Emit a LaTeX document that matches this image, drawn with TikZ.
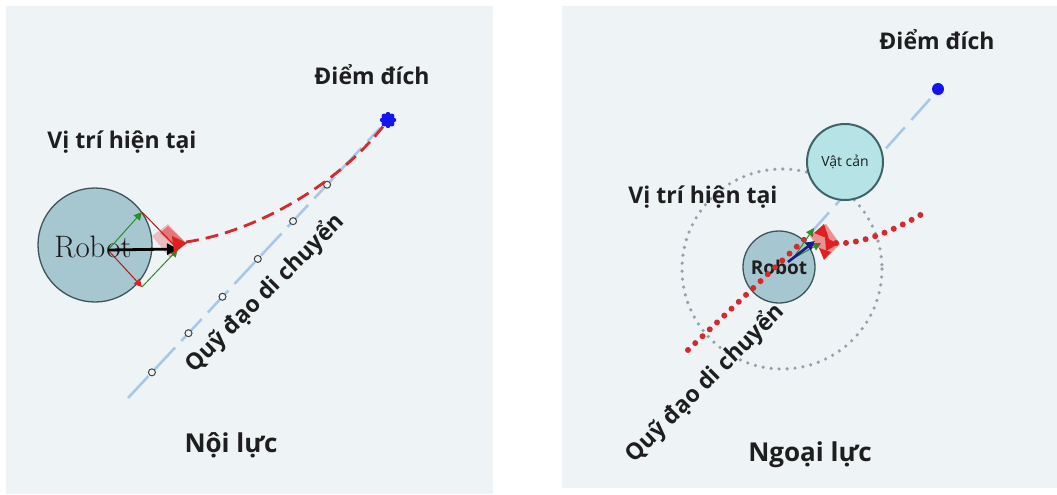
\documentclass[tikz,border=0pt]{standalone}
\usepackage{fontspec}
\newfontfamily\labelfont{Open Sans}
\usetikzlibrary{arrows.meta,calc}
\definecolor{panelbg}{HTML}{EEF3F6}
\definecolor{textdark}{HTML}{1E1E1E}
\definecolor{robotfill}{HTML}{A6C6D0}
\definecolor{robotedge}{HTML}{3D5559}
\definecolor{obstfill}{HTML}{B6E4E6}
\definecolor{obstedge}{HTML}{3E6468}
\definecolor{pathblue}{HTML}{A9C8E6}
\definecolor{goalblue}{HTML}{1414F0}
\definecolor{pathred}{HTML}{D42A2E}
\definecolor{zonegray}{HTML}{96A2AA}
\definecolor{forcegreen}{HTML}{2E8B2E}
\definecolor{forcered}{HTML}{E02020}
\definecolor{forcenavy}{HTML}{1A1A80}
\tikzset{
  lbl/.style={font=\labelfont\bfseries\fontsize{23}{27}\selectfont, text=textdark, inner sep=0pt},
  title/.style={font=\labelfont\bfseries\fontsize{26}{30}\selectfont, text=textdark, inner sep=0pt},
  robotbody/.style={circle, draw=robotedge, line width=1.3pt, fill=robotfill, inner sep=0pt},
  obstbody/.style={circle, draw=obstedge, line width=2pt, fill=obstfill, inner sep=0pt},
  plannedpath/.style={pathblue, line width=2.6pt, dash pattern=on 30pt off 9pt},
  waypoint/.style={circle, draw=black!75, line width=1pt, fill=panelbg, minimum size=7pt, inner sep=0pt},
  actualdash/.style={pathred, line width=2.8pt, dash pattern=on 13pt off 7pt},
  actualdots/.style={pathred, line width=6pt, line cap=round, dash pattern=on 0pt off 10pt},
  zone/.style={zonegray, line width=3.6pt, line cap=round, dash pattern=on 0pt off 8pt},
  greenvec/.style={forcegreen, line width=1pt, -{Triangle[length=8pt,width=8pt]}},
  redvec/.style={forcered!80!black, line width=1pt, -{Triangle[length=8pt,width=8pt,color=forcered]}},
}
\begin{document}
\begin{tikzpicture}[x=1pt,y=-1pt]
\useasboundingbox (0,0) rectangle (1057,495);
\fill[white] (0,0) rectangle (1057,495);
% two panels
\fill[panelbg] (6,6) rectangle (493,494);
\fill[panelbg] (562,6) rectangle (1057,488);

% ================= left panel: internal force =================
\coordinate (startL) at (128,398);
\coordinate (endL) at (380,128);
\draw[plannedpath] (startL) -- (endL);
\foreach \i/\p in {1/0.095,2/0.24,3/0.375,4/0.515,5/0.655,6/0.79}
  \node[waypoint] (wp\i) at ($(startL)!\p!(endL)$) {};

\node[robotbody, minimum size=114pt] (robotL) at (95,245) {};
\node[font=\fontsize{31}{34}\selectfont, text=black!90, inner sep=0pt] (robotnameL) at (93,247) {Robot};

% force parallelogram
\coordinate (oL) at (108,250);
\coordinate (tL) at (142,212);
\coordinate (bL) at (142,287);
\coordinate (pL) at (178,249);
\draw[forcered!80!black, line width=1pt] (tL) -- (pL);
\draw[greenvec] (bL) -- (pL);
\draw[greenvec] (oL) -- (tL);
\draw[redvec] (oL) -- (bL);
% blurred resulting heading
\fill[forcered, opacity=0.25] (152,236) -- (168,224) -- (186,243) -- (170,258) -- cycle;
\fill[forcered, opacity=0.45] (160,233) -- (168,226) -- (184,241) -- (176,248) -- cycle;
\draw[black, line width=2.8pt, -{Triangle[length=11pt,width=11pt]}] (oL) -- (pL);
\fill[forcered] (172,236) -- (187,243) -- (174,253) -- cycle;

% goal and travelled path
\node[circle, fill=goalblue, minimum size=11pt, inner sep=0pt] (goalL) at (388,120) {};
\foreach \a in {0,45,...,315}
  \fill[goalblue] (goalL.center) ++(\a:5.5) circle (2.6);
\draw[actualdash] (186,242) .. controls (255,232) and (338,185) .. (goalL);

\node[lbl] (goalnameL) at (372,75) {Điểm đích};
\node[lbl] (posnameL) at (122,142) {Vị trí hiện tại};
\node[lbl, rotate=45] (pathnameL) at (265,293) {Quỹ đạo di chuyển};
\node[title] (titleL) at (231,445) {Nội lực};

% ================= right panel: external force =================
\node[circle, fill=goalblue, minimum size=12pt, inner sep=0pt] (goalR) at (938,89) {};
\coordinate (headR) at (808,236);
\draw[plannedpath, dash pattern=on 28pt off 10pt] ([shift={(-8,10)}]goalR.center) -- (headR);

\draw[zone] (782,269) circle (100);

\node[obstbody, minimum size=76pt, font=\labelfont\fontsize{14}{16}\selectfont, text=textdark] (obst) at (845,162) {Vật cản};
\node[robotbody, minimum size=72pt, font=\labelfont\bfseries\fontsize{19}{22}\selectfont, text=textdark] (robotR) at (779,267) {Robot};

% travelled path (dotted) and deflection ahead
\coordinate (tailR) at (688,350);
\draw[actualdots] (tailR) -- (headR);
\draw[actualdots] (836,243) .. controls (860,245) and (895,230) .. (922,214);

% force cluster at the robot front
\draw[greenvec, -{Triangle[length=8pt,width=8pt]}] (794,257) -- (814,228);
\draw[greenvec, -{Triangle[length=8pt,width=8pt]}] (794,258) -- (821,243);
\draw[forcenavy, line width=2.6pt, -{Triangle[length=9pt,width=9pt]}] (788,262) -- (815,241);
\fill[forcered, opacity=0.45] (810,236) -- (826,224) -- (840,244) -- (826,258) -- cycle;
\fill[forcered] (814,233) -- (824,224) -- (829,239) -- cycle;
\fill[forcered] (825,237) -- (838,244) -- (826,251) -- cycle;
\fill[forcered] (819,248) -- (831,252) -- (824,260) -- cycle;

\node[lbl] (goalnameR) at (937,40) {Điểm đích};
\node[lbl] (posnameR) at (703,197) {Vị trí hiện tại};
\node[lbl, rotate=45] (pathnameR) at (705,383) {Quỹ đạo di chuyển};
\node[title] (titleR) at (810,455) {Ngoại lực};
\end{tikzpicture}
\end{document}
